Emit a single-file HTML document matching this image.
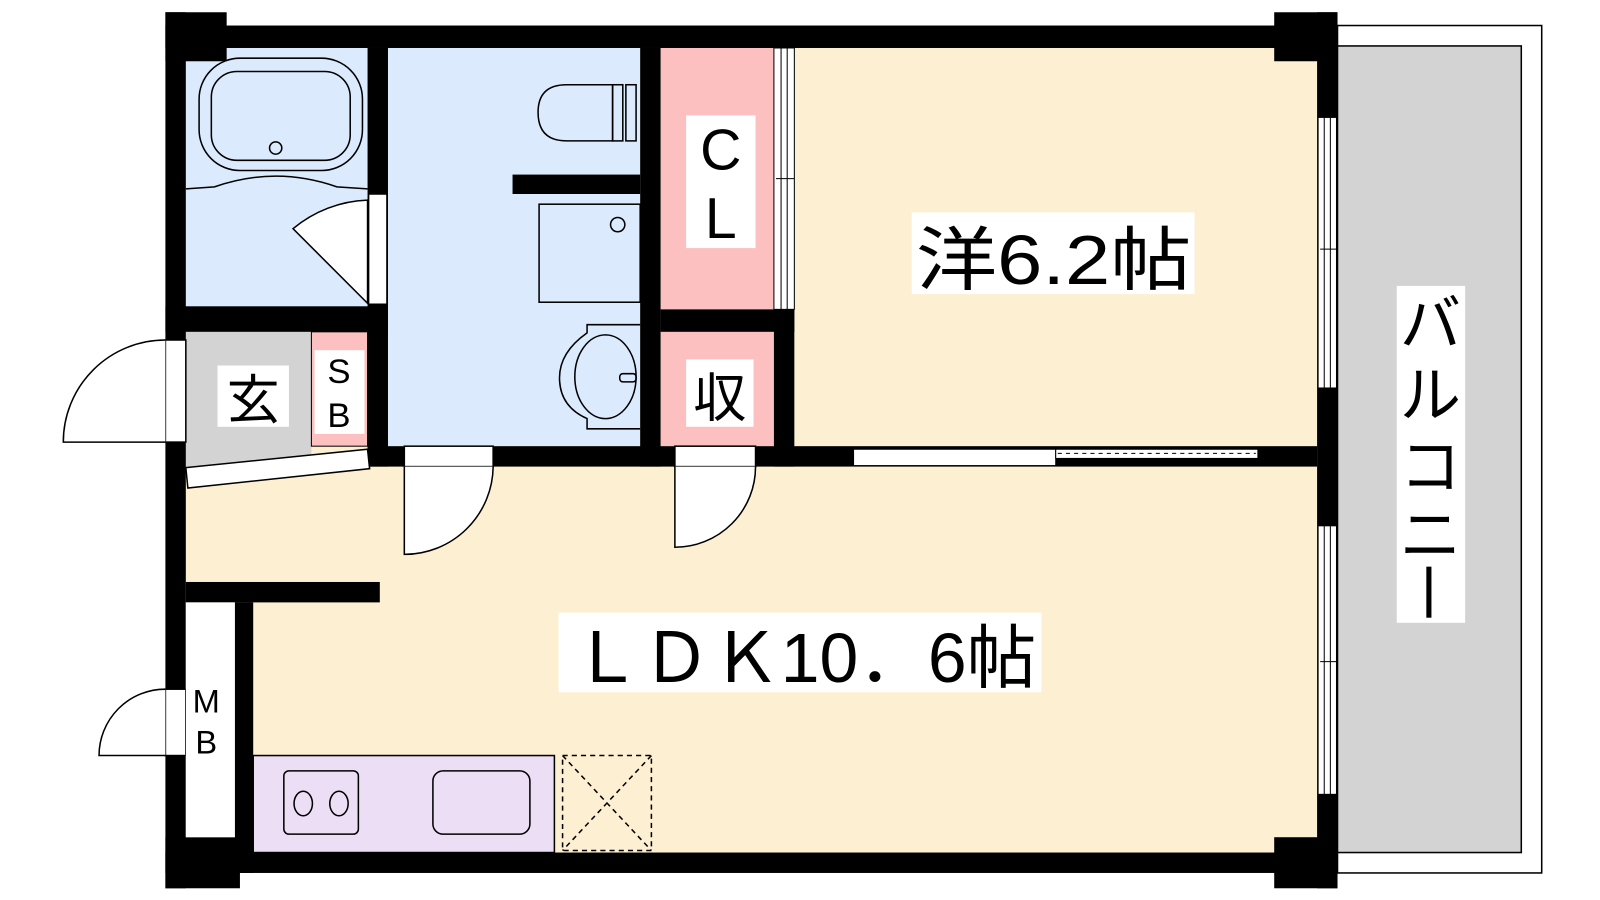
<!DOCTYPE html>
<html><head><meta charset="utf-8"><style>
html,body{margin:0;padding:0;background:#fff;width:1600px;height:900px;overflow:hidden}
svg{display:block}
text{font-family:"Liberation Sans","Noto Sans CJK JP",sans-serif;fill:#000}
</style></head><body>
<svg width="1600" height="900" viewBox="0 0 1600 900" xmlns="http://www.w3.org/2000/svg">
<g transform="scale(1.021)">
<!-- balcony -->
<rect x="1310" y="25" width="200" height="830" fill="#fff" stroke="#000" stroke-width="1.5"/>
<rect x="1310" y="45" width="180" height="790" fill="#d3d3d3" stroke="#000" stroke-width="1.5"/>
<!-- room fills -->
<rect x="182" y="47" width="1108" height="790" fill="#fdf0d2"/>
<rect x="182" y="47" width="180" height="255" fill="#dbeafc"/>
<rect x="380" y="47" width="247" height="390" fill="#dbeafc"/>
<rect x="647" y="47" width="111" height="256" fill="#fcc0c0"/>
<rect x="647" y="325" width="111" height="112" fill="#fcc0c0"/>
<rect x="182" y="325" width="123" height="135" fill="#d3d3d3"/>
<rect x="305" y="325" width="55" height="112" fill="#fcc0c0" stroke="#000" stroke-width="1"/>
<!-- walls -->
<g fill="#000">
<rect x="162" y="25" width="1148" height="22"/>
<rect x="162" y="12" width="60" height="48"/>
<rect x="1248" y="12" width="62" height="48"/>
<rect x="162" y="12" width="20" height="858"/>
<rect x="1290" y="12" width="20" height="858"/>
<rect x="162" y="835" width="1148" height="20"/>
<rect x="162" y="820" width="73" height="50"/>
<rect x="1248" y="820" width="62" height="50"/>
<rect x="360" y="47" width="20" height="410"/>
<rect x="162" y="300" width="218" height="25"/>
<rect x="627" y="47" width="20" height="410"/>
<rect x="502" y="171" width="125" height="19"/>
<rect x="647" y="303" width="131" height="22"/>
<rect x="758" y="303" width="20" height="154"/>
<rect x="360" y="437" width="930" height="20"/>
<rect x="182" y="570" width="190" height="20"/>
<rect x="230" y="590" width="18" height="265"/>
</g>
<!-- CL window strip -->
<rect x="758" y="47" width="20" height="256" fill="#fff" stroke="#000" stroke-width="1"/>
<line x1="765" y1="47" x2="765" y2="303" stroke="#000"/><line x1="771" y1="47" x2="771" y2="303" stroke="#000"/>
<line x1="760" y1="175" x2="778" y2="175" stroke="#000"/>
<!-- right windows -->
<g fill="#fff" stroke="#000" stroke-width="1">
<rect x="1291" y="115" width="18" height="265"/>
<rect x="1291" y="515" width="18" height="263"/>
</g>
<g stroke="#000" stroke-width="1">
<line x1="1297" y1="115" x2="1297" y2="380"/><line x1="1303" y1="115" x2="1303" y2="380"/>
<line x1="1297" y1="515" x2="1297" y2="778"/><line x1="1303" y1="515" x2="1303" y2="778"/>
<line x1="1293" y1="244" x2="1309" y2="244"/><line x1="1293" y1="648" x2="1309" y2="648"/>
</g>
<!-- sliding door -->
<rect x="836" y="440" width="198" height="16" fill="#fff" stroke="#000"/>
<rect x="1034" y="440" width="198" height="9" fill="#fff" stroke="#000"/>
<line x1="1036" y1="444" x2="1230" y2="444" stroke="#000" stroke-dasharray="4,4"/>
<g fill="#fff" stroke="#000" stroke-width="1.5">
<rect x="396" y="437" width="87" height="20"/>
<path d="M396 457 V543 A87 87 0 0 0 483 457"/>
<rect x="661" y="437" width="79" height="20"/>
<path d="M661 457 V536 A79 79 0 0 0 740 457"/>
<rect x="162" y="333" width="20" height="100"/>
<path d="M162 333 A100 100 0 0 0 62 433 H162"/>
<rect x="162" y="675" width="20" height="65"/>
<path d="M162 675 A65 65 0 0 0 97 740 H162"/>
<rect x="361" y="190" width="18" height="108"/>
<path d="M360 196 A120 120 0 0 0 287 224 L360 297 Z"/>
<path d="M182 458 L360 440 L362 459 L184 478 Z"/>
<rect x="182" y="590" width="48" height="230" stroke="none"/>
</g>
<g fill="none" stroke="#000" stroke-width="1.5">
<rect x="195" y="57" width="160" height="110" rx="40"/>
<rect x="207" y="70" width="136" height="87" rx="25"/>
<circle cx="270" cy="145" r="6"/>
<path d="M182 185 L210 183 Q270 162 330 183 L360 185"/>
<path d="M600 83 H555 Q527 83 527 110 Q527 138 555 138 H600 Z"/>
<rect x="600" y="83" width="10" height="55"/><rect x="613" y="83" width="10" height="55"/>
<rect x="528" y="200" width="99" height="96"/>
<circle cx="605" cy="220" r="7"/>
<path d="M627 318 H575 V326 Q548 345 548 370 Q548 398 575 410 V420 H627"/>
<ellipse cx="593" cy="369" rx="30" ry="41"/>
<rect x="607" y="366" width="16" height="8" rx="3"/>
<rect x="248" y="740" width="295" height="95" fill="#ecdff5"/>
<rect x="278" y="755" width="73" height="62" rx="5"/>
<rect x="424" y="755" width="95" height="62" rx="10"/>
<ellipse cx="297" cy="787" rx="9" ry="12"/><ellipse cx="332" cy="787" rx="9" ry="12"/>
</g>
<g fill="none" stroke="#000" stroke-width="1.5" stroke-dasharray="5,4">
<rect x="551" y="740" width="87" height="93"/>
<path d="M551 740 L638 833 M638 740 L551 833"/>
</g>
<g fill="#fff">
<rect x="893" y="208" width="277" height="80"/>
<rect x="547" y="600" width="473" height="78"/>
<rect x="1368" y="280" width="67" height="330"/>
<rect x="672" y="113" width="68" height="130"/>
<rect x="213" y="358" width="70" height="60"/>
<rect x="672" y="352" width="66" height="66"/>
<rect x="308" y="343" width="49" height="82"/>
</g>
<text x="897" y="278" font-size="68" textLength="270" lengthAdjust="spacingAndGlyphs">洋6.2帖</text>
<text x="560" y="668" font-size="68" textLength="455" lengthAdjust="spacingAndGlyphs">ＬＤＫ10．6帖</text>
<text x="706" y="166" font-size="56" text-anchor="middle">C</text>
<text x="706" y="233" font-size="56" text-anchor="middle">L</text>
<text x="248" y="410" font-size="52" text-anchor="middle">玄</text>
<text x="705" y="408" font-size="52" text-anchor="middle">収</text>
<text x="332" y="375" font-size="34" text-anchor="middle">S</text>
<text x="332" y="418" font-size="34" text-anchor="middle">B</text>
<text x="202" y="698" font-size="32" text-anchor="middle">M</text>
<text x="202" y="738" font-size="32" text-anchor="middle">B</text>
<text x="1401" y="338" font-size="60" text-anchor="middle">バ</text>
<text x="1401" y="408" font-size="60" text-anchor="middle">ル</text>
<text x="1401" y="478" font-size="60" text-anchor="middle">コ</text>
<text x="1401" y="545" font-size="60" text-anchor="middle">ニ</text>
<rect x="1397" y="555" width="5" height="50" fill="#000"/>
</g>
</svg>
</body></html>
